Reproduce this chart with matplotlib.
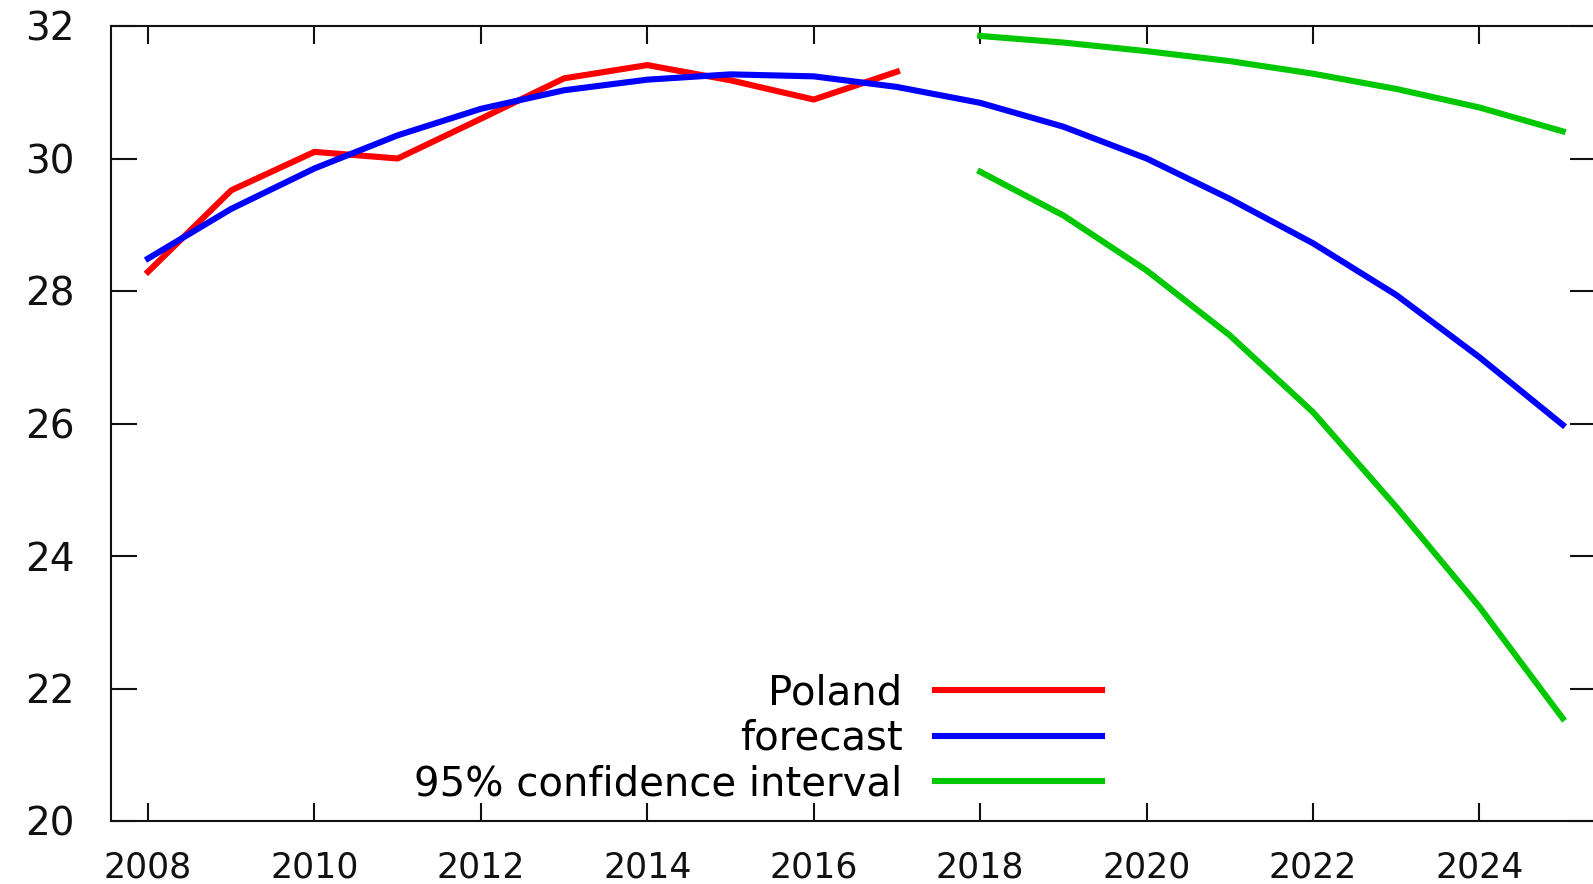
"""
Poland series with forecast and 95% confidence band
"""
import matplotlib
matplotlib.use("Agg")
import matplotlib.pyplot as plt

years_obs = list(range(2008, 2018))
poland = [28.29, 29.52, 30.10, 30.00, 30.60, 31.21, 31.41, 31.18, 30.89, 31.31]

years_fc = list(range(2008, 2026))
forecast = [28.49, 29.24, 29.85, 30.35, 30.75, 31.03, 31.19, 31.27, 31.24,
            31.08, 30.84, 30.48, 30.00, 29.39, 28.72, 27.94, 27.00, 25.98]

years_ci = list(range(2018, 2026))
ci_upper = [31.85, 31.75, 31.62, 31.47, 31.28, 31.05, 30.77, 30.41]
ci_lower = [29.80, 29.14, 28.31, 27.33, 26.17, 24.74, 23.23, 21.55]

x_ticks = list(range(2008, 2026, 2))
y_ticks = list(range(20, 33, 2))

plt.rcParams['font.family'] = ['DejaVu Sans']

W, H = 1593, 884
fig = plt.figure(figsize=(W / 100, H / 100), dpi=100)
# plot box: left spine x=111, top y=26, bottom y=821, right spine just off the image
ax = fig.add_axes([111 / W, (H - 821) / H, (1596 - 111) / W, (821 - 26) / H])

lw = 4.4
ax.plot(years_obs, poland, color="#ff0000", lw=lw, label="Poland")
ax.plot(years_fc, forecast, color="#0000ff", lw=lw, label="forecast")
ax.plot(years_ci, ci_upper, color="#00c800", lw=lw, label="95% confidence interval")
ax.plot(years_ci, ci_lower, color="#00c800", lw=lw)

ax.set_xlim(2007.555, 2025.40)
ax.set_ylim(20, 32)
ax.set_xticks(x_ticks)
ax.set_yticks(y_ticks)

for s in ax.spines.values():
    s.set_linewidth(1.5)
    s.set_color("#111111")

ax.tick_params(axis="x", direction="in", length=13, width=1.5, top=True,
               pad=21, labelsize=25, colors="#111111")
ax.tick_params(axis="y", direction="in", length=19, width=1.5, right=True,
               pad=26, labelsize=28, colors="#111111")

leg = ax.legend(loc="lower right", bbox_to_anchor=((1102 - 111) / 1485, 0.021),
                frameon=False, fontsize=29, markerfirst=False,
                handlelength=4.15, handletextpad=0.8, labelspacing=0.14,
                borderpad=0, borderaxespad=0)

fig.savefig("out.png", dpi=100)
